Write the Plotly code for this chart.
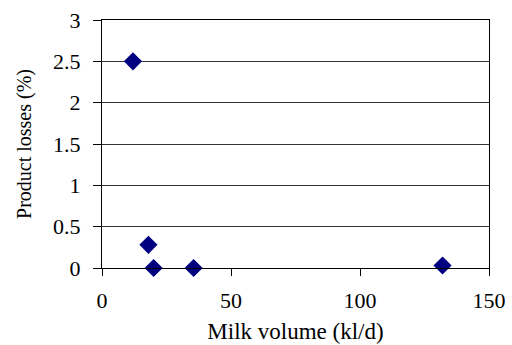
import plotly.graph_objects as go

milk_volume = [12, 18, 20, 35.5, 132]
product_losses = [2.5, 0.28, 0.0, 0.0, 0.03]

x_ticks = [0, 50, 100, 150]
y_ticks = [0, 0.5, 1, 1.5, 2, 2.5, 3]
y_tick_labels = ["0", "0.5", "1", "1.5", "2", "2.5", "3"]

fig = go.Figure()
fig.add_trace(go.Scatter(
    x=milk_volume, y=product_losses, mode="markers",
    marker=dict(symbol="diamond", size=14, color="#000080", line=dict(width=0)),
    cliponaxis=False,
))

tick_font = dict(family="Liberation Serif", size=22, color="black")
xtitle_font = dict(family="Liberation Serif", size=23, color="black")
ytitle_font = dict(family="Liberation Serif", size=20, color="black")
fig.update_layout(
    width=512, height=345,
    margin=dict(l=102, r=23, t=20, b=77),
    paper_bgcolor="white", plot_bgcolor="white",
    showlegend=False,
    xaxis=dict(
        range=[0, 150], tickvals=x_ticks, ticks="outside", ticklen=7,
        tickcolor="black", showline=True, linecolor="black", linewidth=1,
        mirror=True, showgrid=False, zeroline=False, automargin=False,
        ticklabelstandoff=6,
        title=dict(text="Milk volume (kl/d)", standoff=10, font=xtitle_font),
        tickfont=tick_font,
    ),
    yaxis=dict(
        range=[0, 3], tickvals=y_ticks, ticktext=y_tick_labels,
        ticks="outside", ticklen=8, tickcolor="black",
        showline=True, linecolor="black", linewidth=1, mirror=True,
        showgrid=True, gridcolor="#333333", gridwidth=1, zeroline=False,
        automargin=False,
        ticklabelstandoff=8,
        title=dict(text="Product losses (%)", standoff=16, font=ytitle_font),
        tickfont=tick_font,
    ),
)

fig.write_html("out.html")
